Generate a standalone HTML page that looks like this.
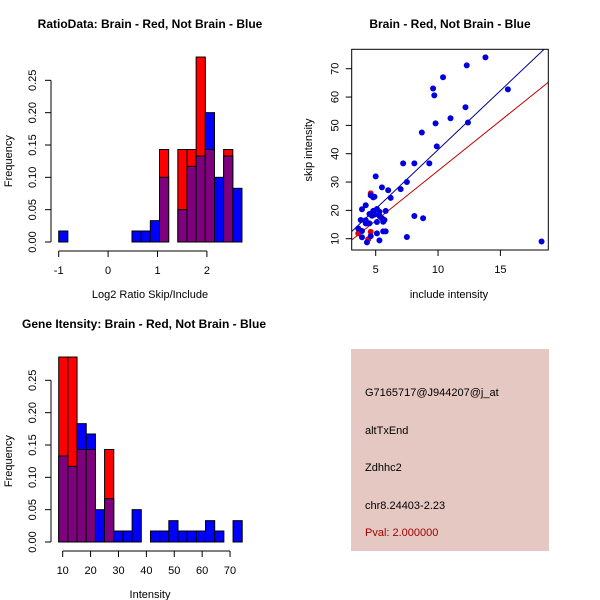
<!DOCTYPE html>
<html><head><meta charset="utf-8"><style>
html,body{margin:0;padding:0;background:#fff}
svg{display:block;font-family:"Liberation Sans",sans-serif}
</style></head><body>
<svg id="svg" width="600" height="600" xmlns="http://www.w3.org/2000/svg">
<rect width="600" height="600" fill="#fff"/>
<g id="p1"></g>
<g id="p2"></g>
<g id="p3"></g>
<g>
<rect x="351" y="349" width="198" height="202" fill="#E6C8C2"/>
<g font-size="11" fill="#000">
<text x="365" y="396">G7165717@J944207@j_at</text>
<text x="365" y="434">altTxEnd</text>
<text x="365" y="471">Zdhhc2</text>
<text x="365" y="509">chr8.24403-2.23</text>
<text x="365" y="536" fill="#A00000">Pval: 2.000000</text>
</g></g>
</svg>
<script>
// Ratio histogram data
const ratioStart = -1, ratioWidth = 0.1855;
const ratioRed  = [0,0,0,0,0,0,0,0,0,0,0,0.143,0,0.143,0.143,0.286,0.143,0,0.143,0];
const ratioBlue = [0.017,0,0,0,0,0,0,0,0.017,0.017,0.033,0.10,0,0.05,0.117,0.133,0.20,0.10,0.133,0.083];
const ratioXTicks = [-1,0,1,2];
const freqTicks = ["0.00","0.05","0.10","0.15","0.20","0.25"];
// Gene intensity histogram data
const intStart = 8.57, intWidth = 3.29;
const intRed  = [0.286,0.286,0.143,0.143,0,0.143,0,0,0,0,0,0,0,0,0,0,0,0,0,0];
const intBlue = [0.133,0.117,0.183,0.167,0.05,0.067,0.017,0.017,0.05,0,0.017,0.017,0.033,0.017,0.017,0.017,0.033,0.017,0,0.033];
const intXTicks = [10,20,30,40,50,60,70];
// Scatter data
const blueX = [13.8,12.3,10.4,9.6,9.7,15.6,12.2,11.0,9.8,12.4,8.7,9.9,7.2,8.1,9.3,5.0,7.5,7.0,5.5,6.0,6.2,4.6,4.9,4.8,4.2,3.9,8.1,8.8,5.8,5.1,5.3,4.8,4.5,4.9,4.7,5.3,5.5,5.7,5.1,5.6,3.8,4.2,4.2,4.5,3.6,3.9,5.6,5.8,5.1,4.6,3.9,7.5,5.3,4.3,18.3];
const blueY = [74,71.2,67,63,60.6,62.7,56.4,52.5,50.7,51,47.5,42.6,36.6,36.6,36.6,32,30,27.5,28.1,27.1,24.4,25.3,24.8,24.6,21.8,20.4,18,17.2,19.8,20.5,19.5,19.8,18.7,18.5,18.1,18.1,17.2,16.6,15.9,16,16.6,16.5,15.4,15.4,13.6,12.7,12.6,12.6,11.9,10.9,10.5,10.6,9.4,8.7,9];
const redX = [4.6,3.6,4.6,4.4,4.3];
const redY = [26,11.9,12.4,9.8,15.4];
const blueFit = [-0.3,4.17]; // intercept, slope
const redFit = [-1.3,3.53];
const scXTicks = [5,10,15];
const scYTicks = [10,20,30,40,50,60,70];

const NS="http://www.w3.org/2000/svg";
function mk(parent,tag,attrs,text){const e=document.createElementNS(NS,tag);for(const k in attrs)e.setAttribute(k,attrs[k]);if(text!==undefined)e.textContent=text;parent.appendChild(e);return e;}

function hist(g,cfg){
  const sx=v=>cfg.x0px+(v-cfg.x0)*cfg.xs, sy=v=>cfg.y0px-v*cfg.ys;
  let t=mk(g,'text',{x:cfg.tx,y:cfg.ty,'font-size':12,'font-weight':'bold','text-anchor':'middle'},cfg.title);
  
  cfg.red.forEach((r,i)=>{
    const b=cfg.blue[i];const x1=sx(cfg.start+i*cfg.width),x2=sx(cfg.start+(i+1)*cfg.width);
    const hi=Math.max(r,b),lo=Math.min(r,b);
    if(hi>0){const e=mk(g,'rect',{x:x1,y:sy(hi),width:x2-x1,height:sy(0)-sy(hi),fill:r>b?'#FF0000':'#0000FF',stroke:'#000','stroke-width':1});
      }
    if(lo>0){const e=mk(g,'rect',{x:x1,y:sy(lo),width:x2-x1,height:sy(0)-sy(lo),fill:'#7F007F',stroke:'#000','stroke-width':1});
      }
  });
  const ax=51;
  mk(g,'line',{x1:ax,y1:sy(0),x2:ax,y2:sy(0.25),stroke:'#000'});
  freqTicks.forEach(s=>{const v=parseFloat(s),y=sy(v);mk(g,'line',{x1:ax-6,y1:y,x2:ax,y2:y,stroke:'#000'});
    const e=mk(g,'text',{x:0,y:0,'font-size':11,'text-anchor':'middle',transform:`translate(36,${y}) rotate(-90)`},s);
    });
  const ay=sy(0)+9;
  mk(g,'line',{x1:sx(cfg.xticks[0]),y1:ay,x2:sx(cfg.xticks[cfg.xticks.length-1]),y2:ay,stroke:'#000'});
  cfg.xticks.forEach(v=>{const x=sx(v);mk(g,'line',{x1:x,y1:ay,x2:x,y2:ay+6,stroke:'#000'});
    const e=mk(g,'text',{x:x,y:ay+23,'font-size':11,'text-anchor':'middle'},String(v));
    });
  let xl=mk(g,'text',{x:150,y:sy(0)+56,'font-size':11,'text-anchor':'middle'},cfg.xlab);
  
  let yl=mk(g,'text',{x:0,y:0,'font-size':11,'text-anchor':'middle',transform:`translate(12,${sy(0.125)}) rotate(-90)`},'Frequency');
  
}
hist(document.getElementById('p1'),{title:'RatioData: Brain - Red, Not Brain - Blue',tx:150,ty:28,x0:-1,x0px:58.7,xs:49.4,y0px:242,ys:646.7,
  start:ratioStart,width:ratioWidth,red:ratioRed,blue:ratioBlue,xticks:ratioXTicks,xlab:'Log2 Ratio Skip/Include'});
hist(document.getElementById('p3'),{title:'Gene Itensity: Brain - Red, Not Brain - Blue',tx:144,ty:328,x0:10,x0px:62.7,xs:2.789,y0px:542,ys:646.7,
  start:intStart,width:intWidth,red:intRed,blue:intBlue,xticks:intXTicks,xlab:'Intensity'});

// scatter
(function(){
  const g=document.getElementById('p2');
  const L=351.7,R=548.3,T=49.3,B=250;
  const sx=v=>375.7+(v-5)*12.47, sy=v=>238.7-(v-10)*2.833;
  let t=mk(g,'text',{x:450,y:28,'font-size':12,'font-weight':'bold','text-anchor':'middle'},'Brain - Red, Not Brain - Blue');
  
  const cp=mk(g,'clipPath',{id:'clip'});mk(cp,'rect',{x:L,y:T,width:R-L,height:B-T});
  const xa=(L-375.7)/12.47+5, xb=(R-375.7)/12.47+5;
  [[redFit,'#C00000','red-fit-line'],[blueFit,'#00008B','blue-fit-line']].forEach(([f,c,n])=>{
    const e=mk(g,'line',{x1:sx(xa),y1:sy(f[0]+f[1]*xa),x2:sx(xb),y2:sy(f[0]+f[1]*xb),stroke:c,'stroke-width':1,'clip-path':'url(#clip)'});
    });
  redX.forEach((x,i)=>{const e=mk(g,'circle',{cx:sx(x),cy:sy(redY[i]),r:3,fill:'#E00000'});
    });
  blueX.forEach((x,i)=>{const e=mk(g,'circle',{cx:sx(x),cy:sy(blueY[i]),r:3,fill:'#0000DD'});
    });
  mk(g,'rect',{x:L,y:T,width:R-L,height:B-T,fill:'none',stroke:'#000'});
  scXTicks.forEach(v=>{const x=sx(v);mk(g,'line',{x1:x,y1:B,x2:x,y2:B+6,stroke:'#000'});
    const e=mk(g,'text',{x:x,y:B+23,'font-size':11,'text-anchor':'middle'},String(v));
    });
  scYTicks.forEach(v=>{const y=sy(v);mk(g,'line',{x1:L-6,y1:y,x2:L,y2:y,stroke:'#000'});
    const e=mk(g,'text',{x:0,y:0,'font-size':11,'text-anchor':'middle',transform:`translate(${L-13},${y}) rotate(-90)`},String(v));
    });
  let xl=mk(g,'text',{x:449,y:298,'font-size':11,'text-anchor':'middle'},'include intensity');
  
  let yl=mk(g,'text',{x:0,y:0,'font-size':11,'text-anchor':'middle',transform:`translate(312,150) rotate(-90)`},'skip intensity');
  
})();
</script>
</body></html>
